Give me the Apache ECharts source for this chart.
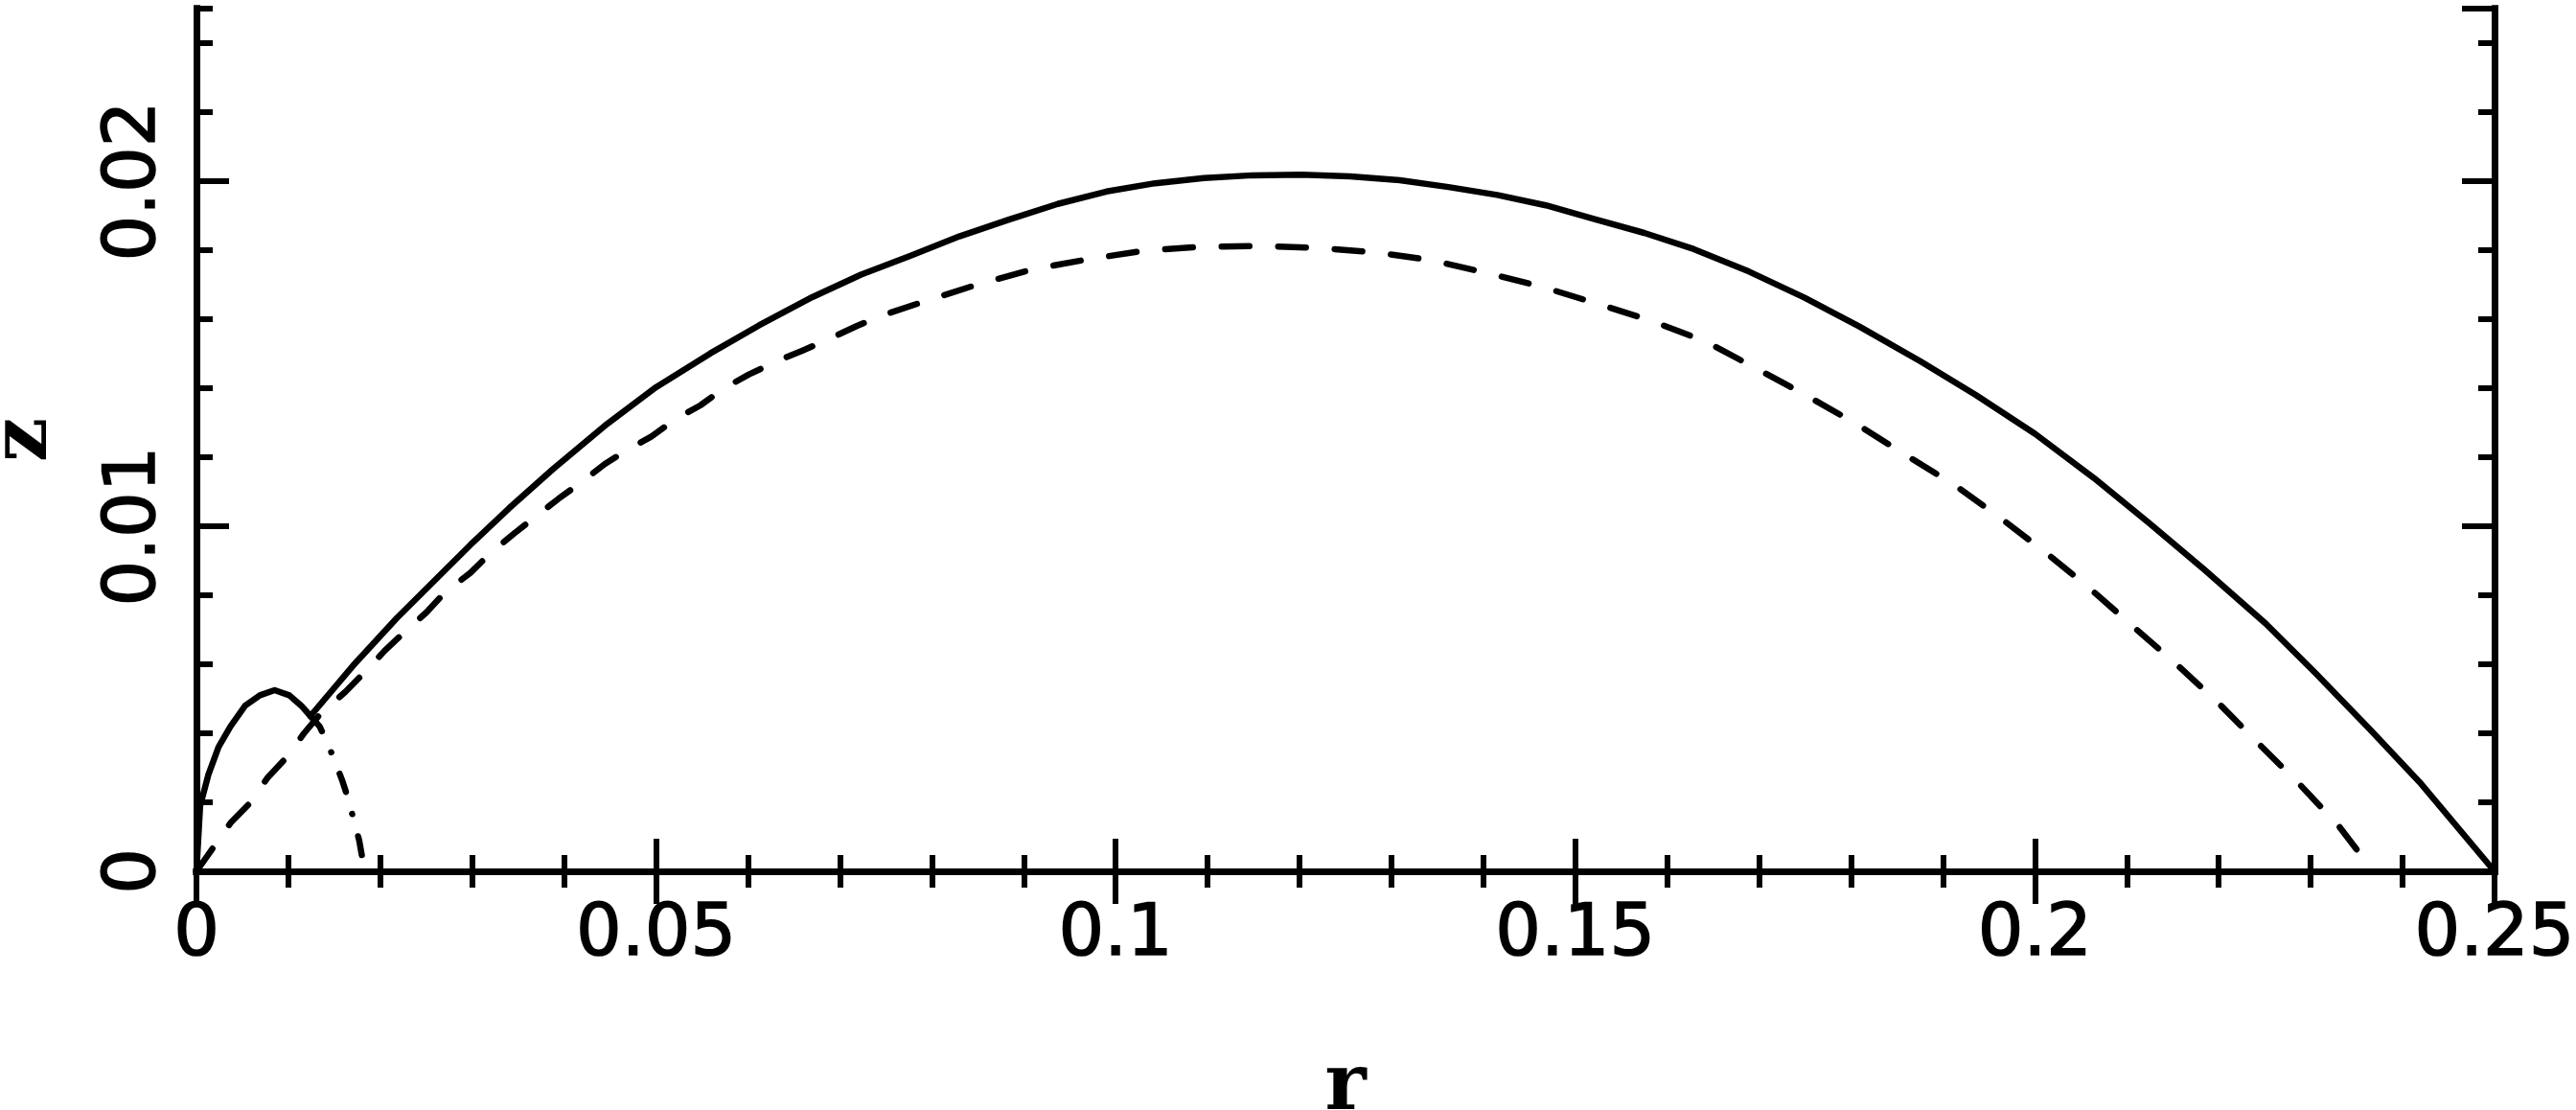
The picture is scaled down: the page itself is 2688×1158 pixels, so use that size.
<!DOCTYPE html>
<html>
<head>
<meta charset="utf-8">
<title>z vs r</title>
<script src="https://cdn.jsdelivr.net/npm/echarts@6/dist/echarts.min.js"></script>
<style>
    html, body {
        margin: 0;
        padding: 0;
        background: #ffffff;
    }
    #chart {
        width: 2688px;
        height: 1158px;
    }
</style>
</head>
<body>
<div id="chart"></div>
<script>
    // values, [r, z]
    // solid curve: small hump near the axis, then the big arc after the kink
    var solidHump = [
        [0, 0], [0.0004, 0.0019], [0.0013, 0.0028], [0.0024, 0.0036], [0.0037, 0.0042],
        [0.0053, 0.0048], [0.0069, 0.0051], [0.0085, 0.00525], [0.0101, 0.0051],
        [0.0114, 0.0048], [0.0124, 0.0045]
    ];

    var solidArc = [
        [0.0124, 0.0045], [0.017, 0.00595], [0.0218, 0.00734], [0.0261, 0.00848],
        [0.0298, 0.00946], [0.034, 0.01052], [0.0388, 0.01166], [0.0447, 0.01297],
        [0.05, 0.01403], [0.0559, 0.01501], [0.0612, 0.01582], [0.067, 0.01664],
        [0.0723, 0.01729], [0.0777, 0.01784], [0.083, 0.0184], [0.0883, 0.01888],
        [0.0937, 0.01934], [0.099, 0.0197], [0.1043, 0.01994], [0.1096, 0.02009],
        [0.1149, 0.02017], [0.1202, 0.02019], [0.1255, 0.02014], [0.1309, 0.02003],
        [0.1362, 0.01983], [0.1415, 0.0196], [0.1468, 0.0193], [0.1521, 0.0189],
        [0.1575, 0.0185], [0.1629, 0.01803], [0.1689, 0.01738], [0.1749, 0.01663],
        [0.1809, 0.01579], [0.1876, 0.01477], [0.1936, 0.0138], [0.2, 0.01268],
        [0.2064, 0.0114], [0.2124, 0.0101], [0.2184, 0.00875], [0.2251, 0.00718],
        [0.2305, 0.00575], [0.2365, 0.0041], [0.2418, 0.0026], [0.25, 0]
    ];

    var dashedLine = [
        [0, 0], [0.0037, 0.0014], [0.0059, 0.002], [0.0077, 0.0027], [0.0098, 0.0033],
        [0.0117, 0.004], [0.0136, 0.0046], [0.0162, 0.0052], [0.0184, 0.0058],
        [0.0205, 0.0064], [0.0229, 0.007], [0.025, 0.0075], [0.0271, 0.0081],
        [0.0298, 0.00865], [0.0319, 0.0092], [0.0346, 0.0098], [0.037, 0.0103],
        [0.0394, 0.0108], [0.042, 0.0113], [0.0444, 0.0118], [0.0468, 0.0122],
        [0.0495, 0.0126], [0.0521, 0.0131], [0.0548, 0.0135], [0.0574, 0.014],
        [0.0601, 0.0144], [0.0633, 0.0148], [0.066, 0.0151], [0.0686, 0.0154],
        [0.0718, 0.0158], [0.0745, 0.0161], [0.079, 0.0165], [0.0849, 0.017],
        [0.091, 0.01745], [0.0971, 0.01774], [0.1032, 0.01799], [0.1094, 0.0181],
        [0.1157, 0.01812], [0.1219, 0.01807], [0.1282, 0.01794], [0.1343, 0.01771],
        [0.1404, 0.01734], [0.1465, 0.01693], [0.1525, 0.01644], [0.1582, 0.01596],
        [0.1642, 0.01535], [0.1695, 0.0146], [0.1752, 0.01378], [0.1806, 0.01296],
        [0.1859, 0.01207], [0.1913, 0.01119], [0.1963, 0.01023], [0.2013, 0.00921],
        [0.206, 0.00819], [0.2107, 0.00709], [0.2154, 0.006], [0.2201, 0.00484],
        [0.2244, 0.00368], [0.2288, 0.00252], [0.2331, 0.0013], [0.2368, 0]
    ];

    var dashDotLine = [
        [0.0124, 0.0045], [0.0134, 0.0042], [0.0141, 0.0038], [0.0149, 0.0033],
        [0.0159, 0.0026], [0.0165, 0.0021], [0.0172, 0.0014], [0.0177, 0.0009],
        [0.018, 0.00045], [0.0182, 0]
    ];

    var xTicks = {min: 0, max: 0.25, major: 0.05, minorSplit: 5};
    var yTicks = {min: 0, max: 0.025, major: 0.01, minor: 0.002};

    var ink = '#000000';
    var labelFont = {
        color: ink, fontFamily: 'DejaVu Sans', fontSize: 75,
        textBorderColor: ink, textBorderWidth: 1.5
    };
    var nameFont = {color: ink, fontFamily: 'DejaVu Serif', fontWeight: 'bold', fontSize: 82};
    var frameLine = {show: true, lineStyle: {color: ink, width: 7, cap: 'square'}};

    function xAxis(pos, withLabels) {
        return {
            type: 'value',
            position: pos,
            min: xTicks.min,
            max: xTicks.max,
            interval: xTicks.major,
            axisLine: frameLine,
            axisTick: {show: true, inside: true, length: 34, lineStyle: {color: ink, width: 6}},
            minorTick: {show: true, splitNumber: xTicks.minorSplit, length: 17, lineStyle: {color: ink, width: 6}},
            axisLabel: Object.assign({show: withLabels, margin: 30}, labelFont),
            splitLine: {show: false},
            minorSplitLine: {show: false},
            name: withLabels ? 'r' : '',
            nameLocation: 'middle',
            nameGap: 186,
            nameTextStyle: nameFont
        };
    }

    function yAxis(pos, step, tickLen, withLabels) {
        return {
            type: 'value',
            position: pos,
            min: yTicks.min,
            max: yTicks.max,
            interval: step,
            axisLine: frameLine,
            axisTick: {show: true, inside: true, length: tickLen, lineStyle: {color: ink, width: 6}},
            axisLabel: Object.assign({show: withLabels, margin: 26, rotate: 90, showMaxLabel: false}, labelFont),
            splitLine: {show: false},
            name: withLabels ? 'z' : '',
            nameLocation: 'middle',
            nameRotate: 90,
            nameGap: 137,
            nameTextStyle: nameFont
        };
    }

    function curve(data, type) {
        return {
            type: 'line',
            data: data,
            xAxisIndex: 0,
            yAxisIndex: 0,
            showSymbol: false,
            symbol: 'none',
            smooth: false,
            silent: true,
            lineStyle: {color: ink, width: 6.5, type: type, cap: 'round', join: 'round'}
        };
    }

    var chart = echarts.init(document.getElementById('chart'));
    chart.setOption({
        animation: false,
        backgroundColor: '#ffffff',
        grid: {left: 205, right: 85, top: 9, bottom: 249, containLabel: false, outerBoundsMode: 'none'},
        xAxis: [xAxis('bottom', true), xAxis('top', false)],
        yAxis: [
            yAxis('left', yTicks.major, 34, true),
            yAxis('left', yTicks.minor, 17, false),
            yAxis('right', yTicks.major, 34, false),
            yAxis('right', yTicks.minor, 17, false)
        ],
        series: [
            curve(solidHump, 'solid'),
            curve(solidArc, 'solid'),
            curve(dashedLine, [29, 30]),
            curve(dashDotLine, [20, 24, 0.1, 24])
        ]
    });
</script>
</body>
</html>
